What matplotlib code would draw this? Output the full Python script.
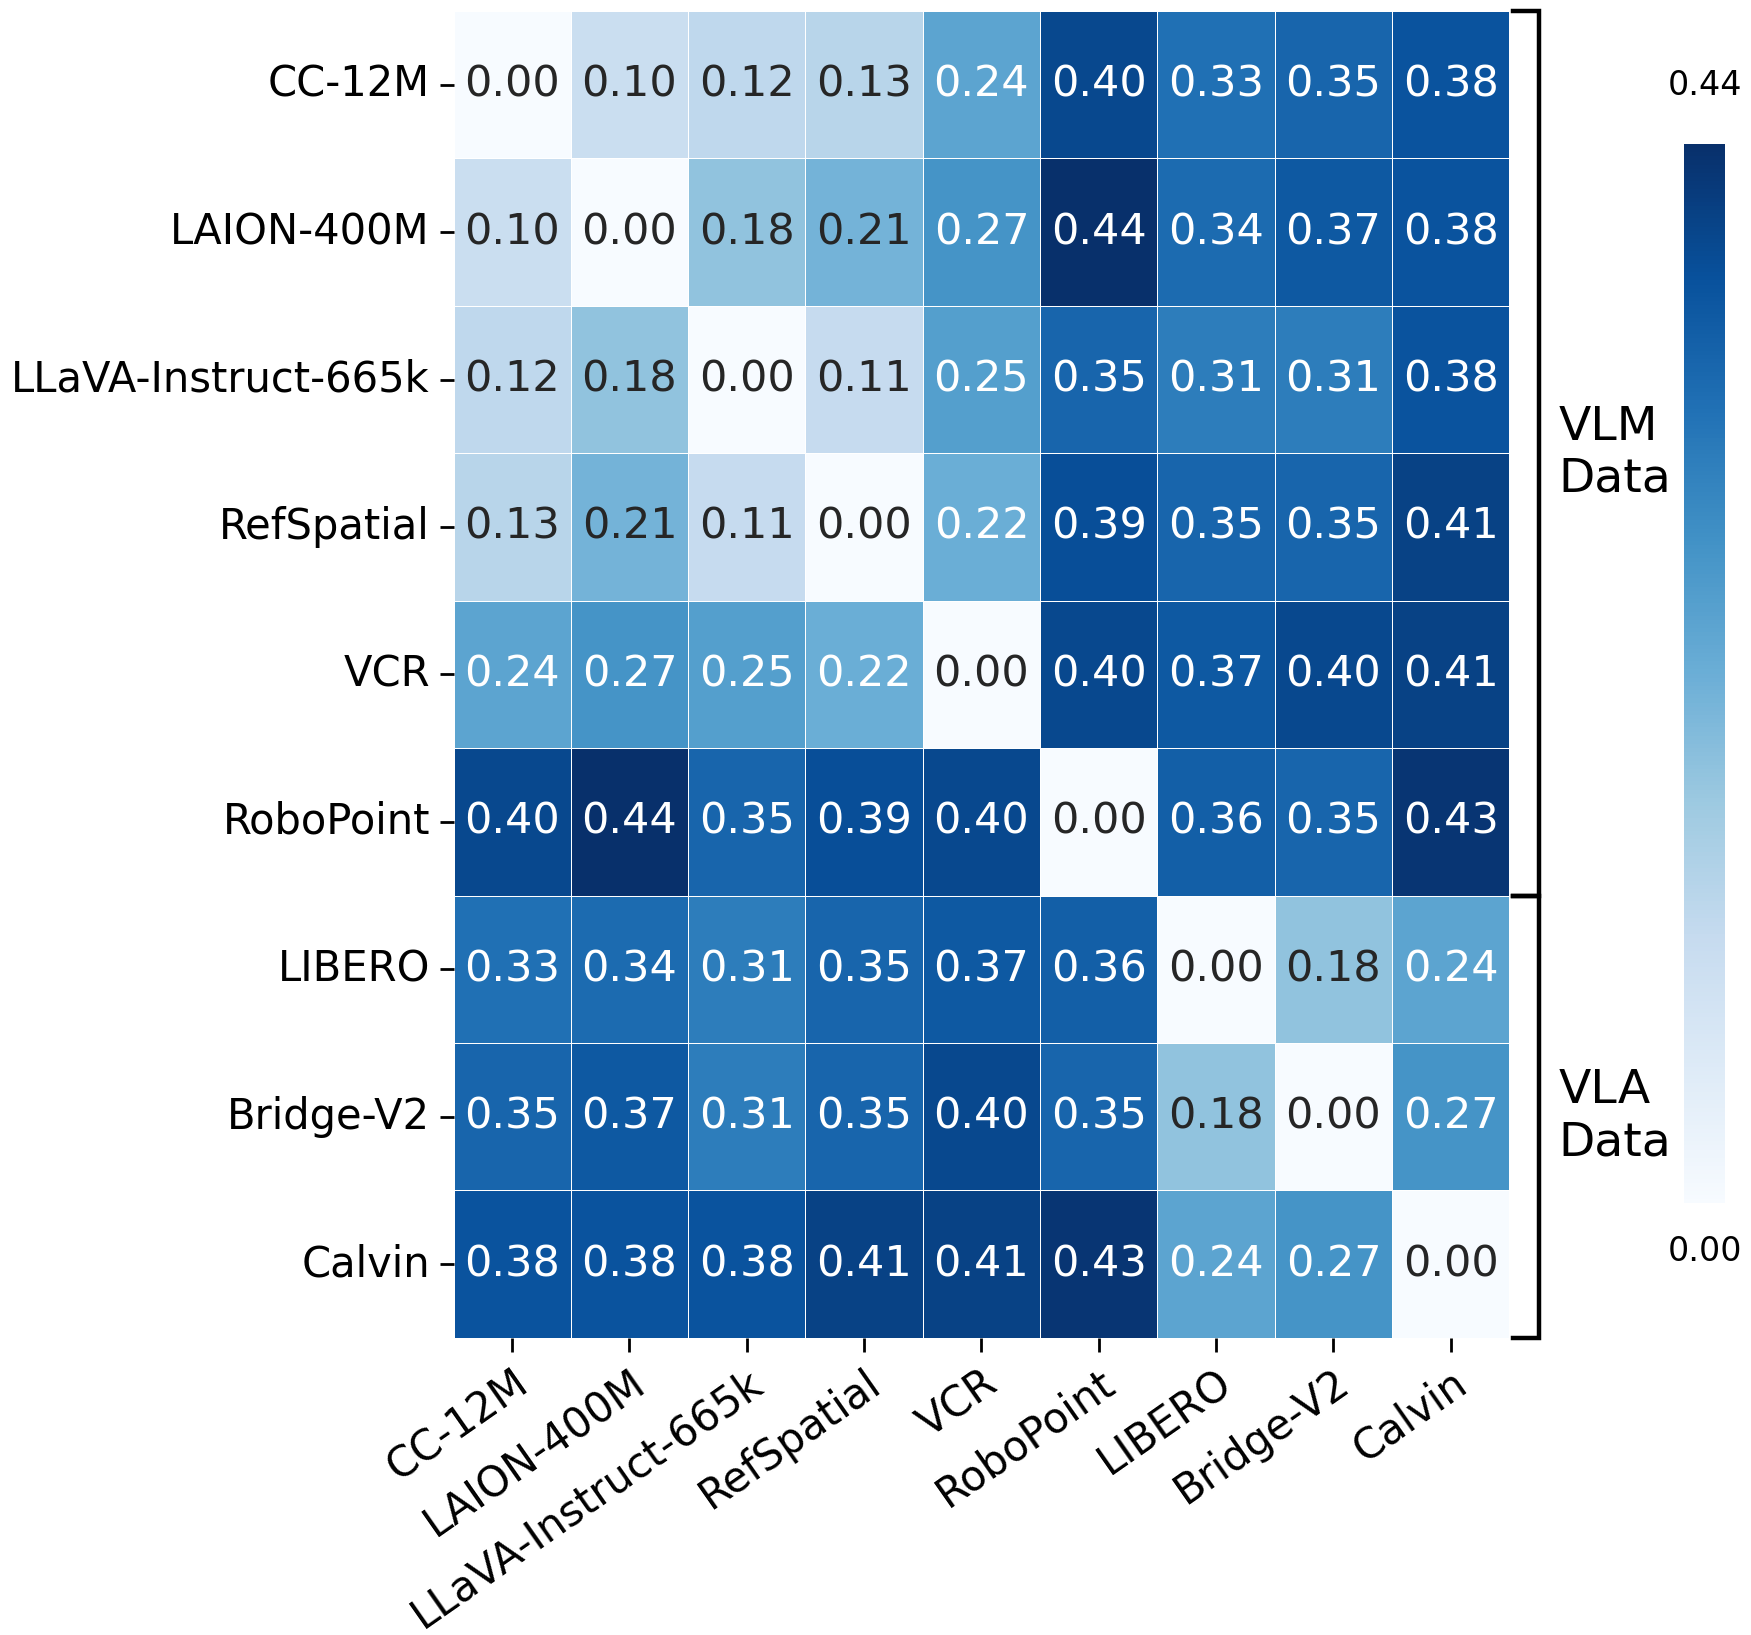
import numpy as np
import pandas as pd
import matplotlib
matplotlib.use('Agg')
import matplotlib.pyplot as plt
import seaborn as sns

datasets = ['CC-12M', 'LAION-400M', 'LLaVA-Instruct-665k', 'RefSpatial', 'VCR',
            'RoboPoint', 'LIBERO', 'Bridge-V2', 'Calvin']

dist = [
    [0.00, 0.10, 0.12, 0.13, 0.24, 0.40, 0.33, 0.35, 0.38],
    [0.10, 0.00, 0.18, 0.21, 0.27, 0.44, 0.34, 0.37, 0.38],
    [0.12, 0.18, 0.00, 0.11, 0.25, 0.35, 0.31, 0.31, 0.38],
    [0.13, 0.21, 0.11, 0.00, 0.22, 0.39, 0.35, 0.35, 0.41],
    [0.24, 0.27, 0.25, 0.22, 0.00, 0.40, 0.37, 0.40, 0.41],
    [0.40, 0.44, 0.35, 0.39, 0.40, 0.00, 0.36, 0.35, 0.43],
    [0.33, 0.34, 0.31, 0.35, 0.37, 0.36, 0.00, 0.18, 0.24],
    [0.35, 0.37, 0.31, 0.35, 0.40, 0.35, 0.18, 0.00, 0.27],
    [0.38, 0.38, 0.38, 0.41, 0.41, 0.43, 0.24, 0.27, 0.00],
]

groups = ['VLM\nData', 'VLA\nData']
group_sizes = [6, 3]

df = pd.DataFrame(dist, index=datasets, columns=datasets)
vmax = df.values.max()

fig = plt.figure(figsize=(8.755, 8.175), dpi=200)
ax = fig.add_axes([0.259, 0.1817, 0.603, 0.8116])
cax = fig.add_axes([0.962, 0.264, 0.023, 0.648])

sns.heatmap(df, ax=ax, cbar_ax=cax, cmap='Blues', vmin=0, vmax=vmax,
            annot=True, fmt='.2f', annot_kws={'size': 15.5},
            linewidths=0.3, linecolor='white')

ax.tick_params(axis='both', labelsize=15, length=5, width=1)
ax.set_xticklabels(datasets, rotation=35, ha='right', rotation_mode='anchor')
ax.set_yticklabels(datasets, rotation=0)
ax.set_xlabel('')
ax.set_ylabel('')

# colorbar: only end labels, no ticks
cax.set_yticks([])
cax.text(0.5, 1.04, f'{vmax:.2f}', transform=cax.transAxes, ha='center', va='bottom', fontsize=12)
cax.text(0.5, -0.03, '0.00', transform=cax.transAxes, ha='center', va='top', fontsize=12)
for s in cax.spines.values():
    s.set_visible(False)

# group brackets on the right
n = len(datasets)
xb = n + 0.25
xt = n + 0.03
start = 0
for g, size in zip(groups, group_sizes):
    y0, y1 = start, start + size
    ax.plot([xt, xb, xb, xt], [y0, y0, y1, y1], color='black', lw=1.6,
            clip_on=False, solid_joinstyle='miter')
    ax.text(xb + 0.17, (y0 + y1) / 2, g, ha='left', va='center', fontsize=17)
    start += size

fig.savefig('out.png', dpi=200)
